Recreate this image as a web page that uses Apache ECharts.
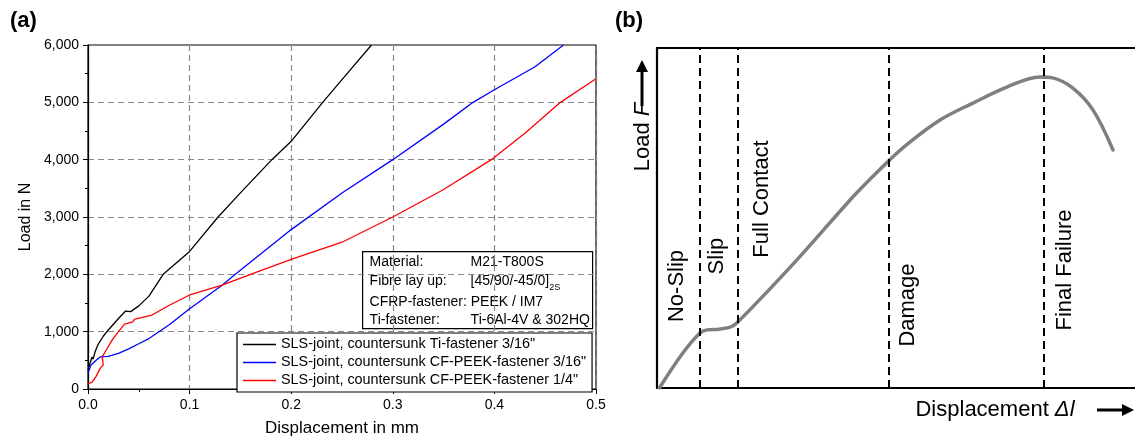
<!DOCTYPE html>
<html>
<head>
<meta charset="utf-8">
<script src="https://cdn.jsdelivr.net/npm/echarts@6/dist/echarts.min.js"></script>
<style>
  html, body { margin: 0; padding: 0; background: #fff; }
  #chart { width: 1135px; height: 442px; }
</style>
</head>
<body>
<div id="chart"></div>
<script>
// (a) measured curves: displacement in mm, load in N
var dispTi = [0, 0.002, 0.004, 0.005, 0.007, 0.01, 0.015, 0.02, 0.03, 0.037, 0.042, 0.05, 0.06, 0.074, 0.1, 0.128, 0.15, 0.181, 0.2, 0.231, 0.255, 0.279]
var loadTi = [330, 450, 560, 520, 650, 780, 920, 1030, 1230, 1360, 1350, 1450, 1620, 2000, 2400, 3000, 3420, 4000, 4320, 5000, 5500, 6000]

var dispPeek316 = [0, 0.003, 0.008, 0.012, 0.02, 0.03, 0.04, 0.05, 0.06, 0.08, 0.1, 0.132, 0.145, 0.2, 0.25, 0.3, 0.35, 0.379, 0.4, 0.44, 0.468]
var loadPeek316 = [280, 420, 500, 560, 570, 620, 700, 790, 880, 1120, 1400, 1810, 2000, 2780, 3420, 4000, 4620, 5000, 5220, 5620, 6000]

var dispPeek14 = [0, 0.004, 0.008, 0.012, 0.015, 0.014, 0.017, 0.024, 0.03, 0.036, 0.044, 0.046, 0.063, 0.08, 0.1, 0.132, 0.16, 0.2, 0.25, 0.3, 0.35, 0.397, 0.43, 0.465, 0.5]
var loadPeek14 = [90, 120, 220, 360, 420, 560, 650, 860, 1000, 1130, 1170, 1220, 1290, 1460, 1640, 1810, 2000, 2260, 2560, 3000, 3480, 4000, 4460, 5000, 5410]

var seriesNames = [
  'SLS-joint, countersunk Ti-fastener 3/16"',
  'SLS-joint, countersunk CF-PEEK-fastener 3/16"',
  'SLS-joint, countersunk CF-PEEK-fastener 1/4"'
]

// (b) schematic curve, arbitrary units 0..100
var schemX = [0.5, 5.4, 9.0, 10.5, 13, 15.3, 16.7, 28.9, 40.4, 44.5, 48.7, 52, 59.2, 66.1, 73.2, 80.1, 82.8, 87, 91.2, 95.4]
var schemY = [0, 10.3, 16.2, 17.1, 17.3, 17.9, 19.1, 37.1, 55.3, 61.3, 67.1, 71.3, 78.8, 83.8, 88.5, 91.5, 91.2, 88.2, 81.8, 70.0]
var phaseBounds = [9.0, 16.9, 48.5, 81.0]
var phaseNames = ['No-Slip', 'Slip', 'Full Contact', 'Damage', 'Final Failure']
var phaseLabelX = [4.2, 12.6, 22.0, 52.5, 85.4]
var phaseLabelY = [30, 38.8, 55.6, 24.4, 34.7]

function pairs (xs, ys) {
  return xs.map(function (x, i) { return [x, ys[i]] })
}

var font = 'Arial, "Liberation Sans", sans-serif'
var chart = echarts.init(document.getElementById('chart'))

chart.setOption({
  animation: false,
  textStyle: { fontFamily: font },
  grid: [
    { left: 88, top: 45, width: 508, height: 348, show: true, borderColor: '#000', borderWidth: 1.2 },
    { left: 657, top: 48, right: 0, height: 340 }
  ],
  xAxis: [
    {
      gridIndex: 0, type: 'value', min: 0, max: 0.5, interval: 0.1,
      name: 'Displacement in mm', nameLocation: 'middle', nameGap: 31,
      nameTextStyle: { fontSize: 17, color: '#000' },
      axisLine: { lineStyle: { color: '#000', width: 1.2 } },
      axisTick: { length: 5, lineStyle: { color: '#000' } },
      minorTick: { show: true, splitNumber: 2, length: 3, lineStyle: { color: '#000' } },
      axisLabel: { fontSize: 14, color: '#000', margin: 9, formatter: function (v) { return v.toFixed(1) } },
      splitLine: { show: true, lineStyle: { color: '#888', type: [6, 4], width: 1.2 } }
    },
    {
      gridIndex: 1, type: 'value', min: 0, max: 100,
      axisLine: { lineStyle: { color: '#000', width: 2.2 } },
      axisTick: { show: false }, axisLabel: { show: false }, splitLine: { show: false }
    },
    {
      gridIndex: 1, type: 'value', min: 0, max: 100, position: 'top',
      axisLine: { lineStyle: { color: '#000', width: 2.2 } },
      axisTick: { show: false }, axisLabel: { show: false }, splitLine: { show: false }
    }
  ],
  yAxis: [
    {
      gridIndex: 0, type: 'value', min: 0, max: 6000, interval: 1000,
      name: 'Load in N', nameLocation: 'middle', nameGap: 54,
      nameTextStyle: { fontSize: 16, color: '#000' },
      axisLine: { lineStyle: { color: '#000', width: 1.2 } },
      axisTick: { length: 5, lineStyle: { color: '#000' } },
      minorTick: { show: true, splitNumber: 2, length: 3, lineStyle: { color: '#000' } },
      axisLabel: { fontSize: 14, color: '#000', margin: 9, formatter: function (v) { return v.toLocaleString('en-US') } },
      splitLine: { show: true, lineStyle: { color: '#888', type: [6, 4], width: 1.2 } }
    },
    {
      gridIndex: 1, type: 'value', min: 0, max: 100,
      axisLine: { lineStyle: { color: '#000', width: 2.2 } },
      axisTick: { show: false }, axisLabel: { show: false }, splitLine: { show: false }
    }
  ],
  legend: {
    data: seriesNames,
    orient: 'vertical',
    left: 237, top: 333,
    padding: [4, 6, 4, 6],
    itemGap: 3,
    icon: 'rect',
    itemWidth: 33, itemHeight: 1.6,
    backgroundColor: '#fff',
    borderColor: '#000', borderWidth: 1.2,
    textStyle: { fontSize: 14.4, color: '#000', fontFamily: font, lineHeight: 15 }
  },
  series: [
    {
      name: seriesNames[0], type: 'line', xAxisIndex: 0, yAxisIndex: 0, symbol: 'none',
      data: pairs(dispTi, loadTi), lineStyle: { color: '#000', width: 1.3 }, itemStyle: { color: '#000' }
    },
    {
      name: seriesNames[1], type: 'line', xAxisIndex: 0, yAxisIndex: 0, symbol: 'none',
      data: pairs(dispPeek316, loadPeek316), lineStyle: { color: '#0000ff', width: 1.3 }, itemStyle: { color: '#0000ff' }
    },
    {
      name: seriesNames[2], type: 'line', xAxisIndex: 0, yAxisIndex: 0, symbol: 'none',
      data: pairs(dispPeek14, loadPeek14), lineStyle: { color: '#ff0000', width: 1.3 }, itemStyle: { color: '#ff0000' }
    },
    {
      name: 'schematic', type: 'line', xAxisIndex: 1, yAxisIndex: 1, symbol: 'none', smooth: 0.35,
      data: pairs(schemX, schemY),
      lineStyle: { color: '#7f7f7f', width: 3.5, cap: 'round' },
      markLine: {
        silent: true, symbol: 'none',
        label: { show: false },
        lineStyle: { color: '#000', type: [8, 5], width: 2 },
        data: phaseBounds.map(function (x) { return { xAxis: x } })
      }
    },
    {
      name: 'phases', type: 'scatter', xAxisIndex: 1, yAxisIndex: 1, symbolSize: 0, silent: true,
      itemStyle: { color: '#000', opacity: 1 },
      data: phaseNames.map(function (n, i) { return { name: n, value: [phaseLabelX[i], phaseLabelY[i]] } }),
      label: {
        show: true, position: 'inside', rotate: 90, fontSize: 22, color: '#000',
        textBorderWidth: 0, fontFamily: font, formatter: function (p) { return p.name }
      }
    }
  ],
  graphic: [
    { type: 'text', left: 10, top: 10, style: { text: '(a)', fontSize: 22, fontWeight: 'bold', fill: '#000', fontFamily: font } },
    { type: 'text', left: 615, top: 10, style: { text: '(b)', fontSize: 22, fontWeight: 'bold', fill: '#000', fontFamily: font } },
    // info box
    {
      type: 'group', left: 362, top: 251,
      children: [
        { type: 'rect', shape: { x: 0, y: 0, width: 230, height: 77 }, style: { fill: '#fff', stroke: '#000', lineWidth: 1.2 } },
        { type: 'text', x: 7, y: 11, style: { text: 'Material:', fontSize: 14, fill: '#000', fontFamily: font, verticalAlign: 'middle' } },
        { type: 'text', x: 108, y: 11, style: { text: 'M21-T800S', fontSize: 14, fill: '#000', fontFamily: font, verticalAlign: 'middle' } },
        { type: 'text', x: 7, y: 30, style: { text: 'Fibre lay up:', fontSize: 14, fill: '#000', fontFamily: font, verticalAlign: 'middle' } },
        {
          type: 'text', x: 108, y: 30,
          style: {
            text: '{a|[45/90/-45/0]}{s|2S}', fontSize: 14, fill: '#000', fontFamily: font, verticalAlign: 'middle',
            rich: { a: { fontSize: 14, fontFamily: font }, s: { fontSize: 9, fontFamily: font, padding: [12, 0, 0, 0] } }
          }
        },
        { type: 'text', x: 7, y: 51, style: { text: 'CFRP-fastener: PEEK / IM7', fontSize: 14, fill: '#000', fontFamily: font, verticalAlign: 'middle' } },
        { type: 'text', x: 7, y: 69, style: { text: 'Ti-fastener:', fontSize: 14, fill: '#000', fontFamily: font, verticalAlign: 'middle' } },
        { type: 'text', x: 108, y: 69, style: { text: 'Ti-6Al-4V & 302HQ', fontSize: 14, fill: '#000', fontFamily: font, verticalAlign: 'middle' } }
      ]
    },
    // (b) axis names with arrows
    {
      type: 'text', x: 643, y: 137, rotation: Math.PI / 2,
      style: {
        text: '{n|Load }{i|F}', fill: '#000', align: 'center', verticalAlign: 'middle',
        rich: { n: { fontSize: 22, fontFamily: font }, i: { fontSize: 22, fontFamily: font, fontStyle: 'italic' } }
      }
    },
    { type: 'line', shape: { x1: 642, y1: 106, x2: 642, y2: 70 }, style: { stroke: '#000', lineWidth: 3 } },
    { type: 'polygon', shape: { points: [[642, 60], [636, 72], [648, 72]] }, style: { fill: '#000' } },
    {
      type: 'text', x: 995, y: 410,
      style: {
        text: '{n|Displacement }{i|\u0394l}', fill: '#000', align: 'center', verticalAlign: 'middle',
        rich: { n: { fontSize: 22, fontFamily: font }, i: { fontSize: 22, fontFamily: font, fontStyle: 'italic' } }
      }
    },
    { type: 'line', shape: { x1: 1097, y1: 410, x2: 1124, y2: 410 }, style: { stroke: '#000', lineWidth: 3 } },
    { type: 'polygon', shape: { points: [[1134, 410], [1122, 404], [1122, 416]] }, style: { fill: '#000' } }
  ]
})
</script>
</body>
</html>
